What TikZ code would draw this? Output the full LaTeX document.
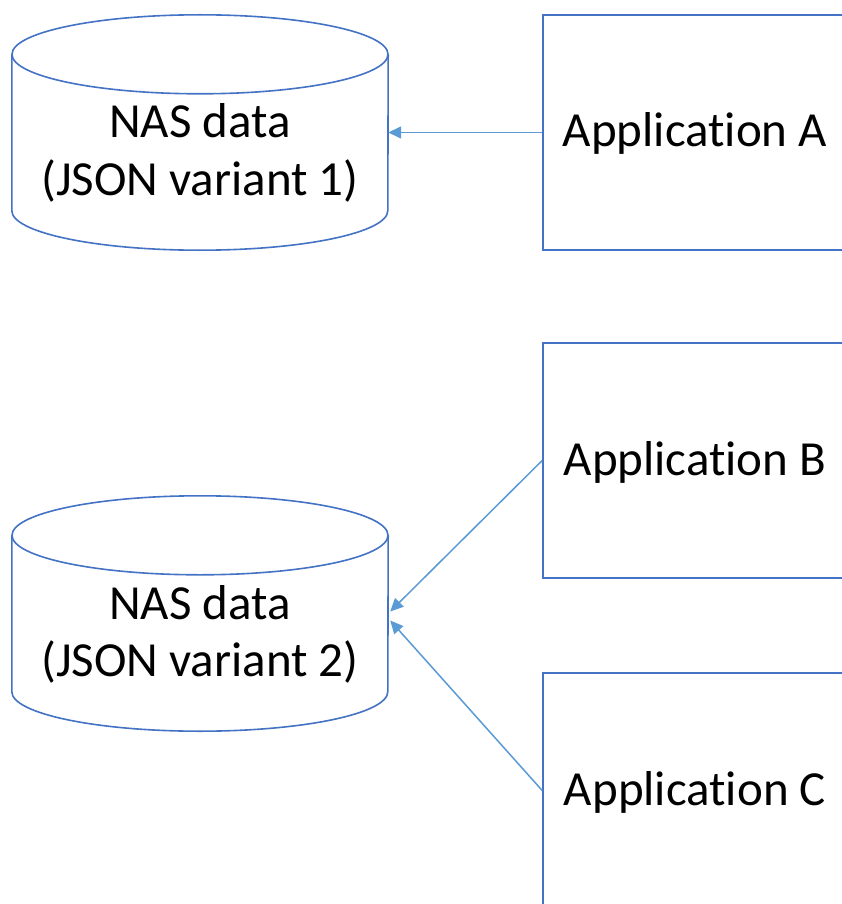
\documentclass[tikz,border=0pt]{standalone}
\usepackage{fontspec}
\setmainfont{Carlito}[Ligatures=NoCommon]
\usetikzlibrary{arrows.meta,calc}
\definecolor{shapeblue}{HTML}{4472C4}
\definecolor{linkblue}{HTML}{5B9BD5}
\tikzset{
  appbox/.style={draw=shapeblue, line width=1.6pt, minimum width=304pt,
    minimum height=235pt, inner sep=0pt, text height=29pt, text depth=0pt,
    font=\fontsize{49}{57}\selectfont},
  cylbody/.style={minimum width=376pt, minimum height=235pt, inner sep=0pt},
  cyloutline/.style={draw=shapeblue, line width=1.6pt},
  cyltext/.style={font=\fontsize{49}{57}\selectfont, inner sep=0pt, anchor=base},
  link/.style={draw=linkblue, line width=1.5pt,
    -{Triangle[length=13pt,width=12pt]}}
}
\begin{document}
\begin{tikzpicture}[x=1pt,y=1pt]
  \useasboundingbox (0,0) rectangle (842,-904);
  \fill[white] (0,0) rectangle (842,-904);

  % storage cylinders (invisible body nodes, outline drawn from their anchors)
  \node[cylbody] (nas1) at (200,-132.5) {};
  \node[cylbody] (nas2) at (200,-613.5) {};
  \foreach \c in {nas1,nas2}{
    \draw[cyloutline] ($(\c.north)+(0,-39.5)$) ellipse [x radius=188pt, y radius=39.5pt];
    \draw[cyloutline] ($(\c.north west)+(0,-39.5)$) -- ($(\c.south west)+(0,39.5)$)
      arc[start angle=180, end angle=360, x radius=188pt, y radius=39.5pt]
      -- ($(\c.north east)+(0,-39.5)$);
  }
  \node[cyltext] (nas1a) at (200,-138) {NAS data};
  \node[cyltext] (nas1b) at (200,-195) {(JSON variant 1)};
  \node[cyltext] (nas2a) at (200,-619) {NAS data};
  \node[cyltext] (nas2b) at (200,-676) {(JSON variant 2)};

  % applications
  \node[appbox] (appA) at (695,-132.5) {Application A};
  \node[appbox] (appB) at (695,-460.5) {Application B};
  \node[appbox] (appC) at (695,-790.5) {Application C};

  % data flows
  \draw[link] (appA.west) -- (nas1.east);
  \draw[link] (appB.west) -- ($(nas2.east)+(2,2)$);
  \draw[link] (appC.west) -- ($(nas2.east)+(2,-7)$);
\end{tikzpicture}
\end{document}
